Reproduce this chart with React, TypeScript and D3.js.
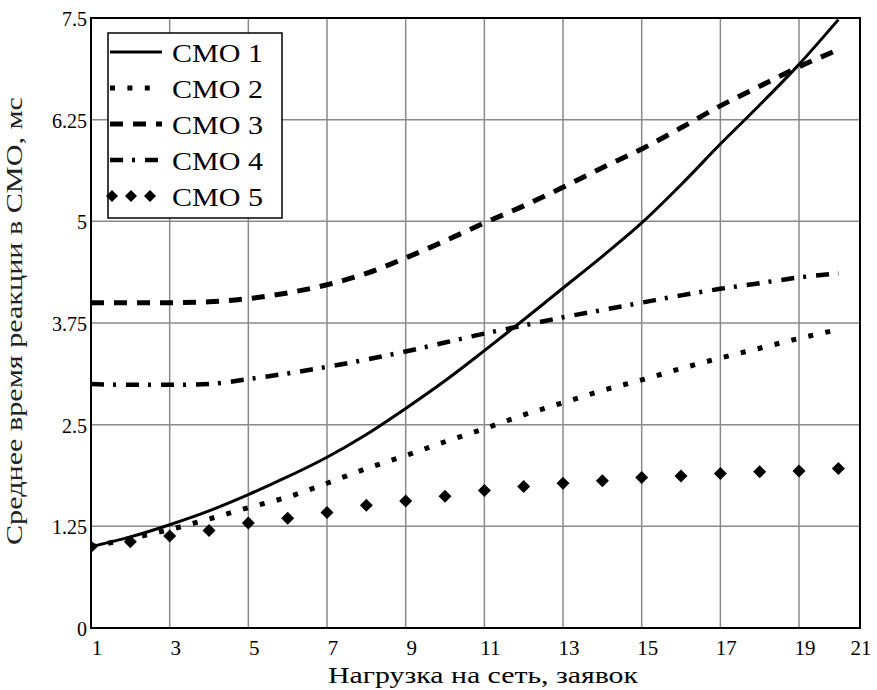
import React from "react";
import * as d3 from "d3";

const xValues = [1, 2, 3, 4, 5, 6, 7, 8, 9, 10, 11, 12, 13, 14, 15, 16, 17, 18, 19, 20];
const cmo1 = [1.0, 1.12, 1.27, 1.44, 1.64, 1.86, 2.1, 2.38, 2.7, 3.04, 3.41, 3.79, 4.18, 4.57, 4.98, 5.45, 5.95, 6.43, 6.93, 7.48];
const cmo2 = [1.0, 1.1, 1.21, 1.34, 1.48, 1.61, 1.78, 1.96, 2.12, 2.29, 2.45, 2.62, 2.77, 2.92, 3.05, 3.19, 3.32, 3.44, 3.56, 3.67];
const cmo3 = [4.0, 4.0, 4.0, 4.01, 4.05, 4.12, 4.22, 4.36, 4.55, 4.76, 4.98, 5.19, 5.42, 5.66, 5.89, 6.15, 6.42, 6.66, 6.9, 7.11];
const cmo4 = [3.0, 2.99, 2.99, 3.0, 3.06, 3.13, 3.21, 3.3, 3.4, 3.51, 3.62, 3.72, 3.82, 3.91, 4.0, 4.09, 4.17, 4.24, 4.31, 4.36];
const cmo5 = [1.0, 1.06, 1.13, 1.2, 1.29, 1.35, 1.42, 1.51, 1.56, 1.62, 1.69, 1.74, 1.78, 1.81, 1.85, 1.87, 1.9, 1.92, 1.93, 1.96];

const seriesNames = ["СМО 1", "СМО 2", "СМО 3", "СМО 4", "СМО 5"];
const xTicks = [1, 3, 5, 7, 9, 11, 13, 15, 17, 19];
const xEndLabel = "21";
const yTicks = [0, 1.25, 2.5, 3.75, 5, 6.25, 7.5];
const yTickLabels = ["0", "1.25", "2.5", "3.75", "5", "6.25", "7.5"];
const xTitle = "Нагрузка на сеть, заявок";
const yTitle = "Среднее время реакции в СМО, мс";

const W = 877;
const H = 690;
const L = 91, R = 860, T = 18, B = 628;
const FONT = '"Liberation Serif", "Times New Roman", Times, "DejaVu Serif", serif';

const x = d3.scaleLinear().domain([1, 20.55]).range([L, R]);
const y = d3.scaleLinear().domain([0, 7.5]).range([B, T]);

type Style = { dash?: string; width: number; markers?: boolean };
const styles: Style[] = [
  { width: 3 },
  { dash: "5 12.4", width: 5 },
  { dash: "13 10", width: 5 },
  { dash: "13 9 3 10", width: 4.5 },
  { width: 0, markers: true },
];
const allSeries = [cmo1, cmo2, cmo3, cmo4, cmo5];

const diamond = (cx: number, cy: number, r: number) =>
  `M${cx},${cy - r}L${cx + r},${cy}L${cx},${cy + r}L${cx - r},${cy}Z`;

export default function App() {
  const line = d3
    .line<number>()
    .x((_, i) => x(xValues[i]))
    .y((d) => y(d))
    .curve(d3.curveMonotoneX);

  const legendX = 108, legendY = 33, legendW = 174, legendH = 185;

  return (
    <div style={{ position: "absolute", left: 0, top: 0, fontFamily: FONT }}>
      <svg width={W} height={H} style={{ display: "block", background: "#fff", fontFamily: FONT }}>
        <defs>
          <clipPath id="plot">
            <rect x={L} y={T} width={R - L} height={B - T} />
          </clipPath>
        </defs>
        <rect x={0} y={0} width={W} height={H} fill="#fff" />
        {xTicks.slice(1).map((t) => (
          <line key={"gx" + t} x1={x(t)} x2={x(t)} y1={T} y2={B} stroke="#8a8a8a" strokeWidth={1.5} />
        ))}
        {yTicks.slice(1, -1).map((t) => (
          <line key={"gy" + t} x1={L} x2={R} y1={y(t)} y2={y(t)} stroke="#8a8a8a" strokeWidth={1.5} />
        ))}
        <g clipPath="url(#plot)">
          {allSeries.map((s, i) =>
            styles[i].markers ? (
              <g key={"s" + i}>
                {s.map((v, j) => (
                  <path key={j} d={diamond(x(xValues[j]), y(v), 6.5)} fill="#000" />
                ))}
              </g>
            ) : (
              <path
                key={"s" + i}
                d={line(s) || ""}
                fill="none"
                stroke="#000"
                strokeWidth={styles[i].width}
                strokeDasharray={styles[i].dash}
              />
            )
          )}
        </g>
        <rect x={L} y={T} width={R - L} height={B - T} fill="none" stroke="#000" strokeWidth={2} />
        <g fontFamily={FONT}>
          {yTicks.map((t, i) => (
            <text key={"yl" + t} x={87} y={y(t) + 8} textAnchor="end" fontSize={20} fill="#000">
              {yTickLabels[i]}
            </text>
          ))}
          {xTicks.map((t) => (
            <text key={"xl" + t} x={x(t) + 6} y={655} textAnchor="middle" fontSize={21} fill="#000">
              {t}
            </text>
          ))}
          <text x={R + 1} y={655} textAnchor="middle" fontSize={21} fill="#000">
            {xEndLabel}
          </text>
          <text
            x={483}
            y={683}
            textAnchor="middle"
            fontSize={24}
            textLength={310}
            lengthAdjust="spacingAndGlyphs"
            fill="#000"
          >
            {xTitle}
          </text>
          <text
            transform={`translate(22,321) rotate(-90)`}
            textAnchor="middle"
            fontSize={24}
            textLength={448}
            lengthAdjust="spacingAndGlyphs"
            fill="#222"
          >
            {yTitle}
          </text>
        </g>
        <rect x={legendX} y={legendY} width={legendW} height={legendH} fill="#fff" stroke="#000" strokeWidth={1.5} />
        <g fontFamily={FONT}>
          {seriesNames.map((name, i) => {
            const base = 62 + i * 36;
            const sy = base - 10;
            const st = styles[i];
            return (
              <g key={"lg" + i}>
                {st.markers ? (
                  [112, 131, 150].map((cx) => <path key={cx} d={diamond(cx, sy, 6)} fill="#000" />)
                ) : (
                  <line
                    x1={110}
                    x2={162}
                    y1={sy}
                    y2={sy}
                    stroke="#000"
                    strokeWidth={st.width}
                    strokeDasharray={st.dash}
                  />
                )}
                <text x={172} y={base} fontSize={26} textLength={91} lengthAdjust="spacingAndGlyphs" fill="#000">
                  {name}
                </text>
              </g>
            );
          })}
        </g>
      </svg>
    </div>
  );
}
